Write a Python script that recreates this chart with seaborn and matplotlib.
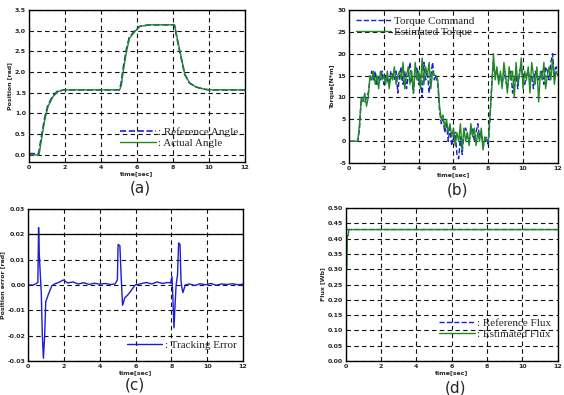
import numpy as np
import pandas as pd
import matplotlib
matplotlib.use('Agg')
import matplotlib.pyplot as plt
import seaborn as sns

# (a) position tracking [rad]
t_ang = [0, 0.57, 0.7, 0.89, 1.07, 1.35, 1.63, 2.0, 5.05, 5.15, 5.24, 5.43, 5.6, 5.9,
         6.17, 6.7, 8.1, 8.3, 8.5, 8.67, 8.94, 9.3, 9.7, 10.0, 12.0]
actual_angle = [0, 0, 0.36, 0.85, 1.17, 1.41, 1.53, 1.57, 1.57, 1.69, 2.0, 2.5, 2.82, 2.98,
                3.1, 3.14, 3.14, 2.7, 2.3, 1.94, 1.73, 1.64, 1.59, 1.57, 1.57]
t_ref = [0, 0.55, 0.68, 0.87, 1.05, 1.33, 1.6, 2.0, 5.02, 5.12, 5.22, 5.41, 5.58, 5.88,
         6.15, 6.7, 8.08, 8.28, 8.48, 8.66, 8.92, 9.28, 9.7, 10.0, 12.0]
ref_angle = [0.03, 0.03, 0.38, 0.86, 1.18, 1.42, 1.54, 1.57, 1.57, 1.7, 2.02, 2.52, 2.83, 2.99,
             3.1, 3.14, 3.14, 2.72, 2.31, 1.95, 1.74, 1.64, 1.59, 1.57, 1.57]

# (b) torque [N*m], sampled every 0.1 s
dt_torque = 0.1
est_torque = [0, 0, 0, 0, 0, 0,
              4, 10, 9, 11, 8, 10, 15, 14, 16, 13, 15, 12, 16, 14,
              15, 13, 16, 12, 15, 14, 17, 13, 15, 16,
              14, 18, 12, 15, 17, 13, 16, 11, 18, 14,
              16, 12, 19, 13, 17, 15, 18, 12, 16, 15,
              15, 14, 8, 5, 6, 3, 5, 2, 4, 1,
              3, -1, 2, 0, 4, -2, 3, 0, 2, -1,
              4, 1, 3, -1, 2, 0, 3, -2, 1, 0,
              0, 6, 12, 20, 14, 17, 13, 16, 12, 18,
              15, 11, 17, 14, 16, 10, 18, 13, 15, 19,
              12, 16, 14, 17, 11, 18, 15, 13, 17, 9,
              16, 14, 18, 12, 15, 17, 14, 19, 13, 16,
              15]
cmd_torque = [0, 0, 0, 0, 0, 0,
              3, 10, 10, 9, 10, 11, 14, 16, 14, 16, 13, 15, 14, 16,
              13, 15, 14, 13, 16, 15, 14, 16, 11, 15,
              17, 13, 16, 12, 15, 18, 14, 11, 16, 17,
              13, 15, 10, 18, 14, 16, 11, 15, 18, 14,
              15, 13, 7, 4, 5, 2, 4, 0, 3, -1,
              1, 2, -3, -4, 1, -3, 2, 3, 1, 0,
              2, 3, 0, 2, 4, 1, 2, -1, 0, 1,
              -1, 5, 13, 18, 15, 16, 14, 15, 13, 16,
              14, 12, 15, 16, 11, 14, 15, 12, 16, 17,
              14, 13, 15, 16, 14, 15, 12, 16, 15, 14,
              15, 16, 13, 17, 16, 14, 18, 20, 15, 17,
              16]

# (c) tracking error [rad]
t_err = [0, 0.3, 0.54, 0.58, 0.62, 0.67, 0.73, 0.79, 0.85, 0.92, 0.98, 1.13, 1.32, 1.5,
         1.7, 1.97, 2.2, 2.5, 2.8, 3.1, 3.4, 3.7, 4.0, 4.3, 4.6, 4.85, 4.98, 5.02,
         5.12, 5.2, 5.27, 5.4, 5.55, 5.7, 5.97, 6.3, 6.6, 6.9, 7.2, 7.5, 7.8, 7.95,
         8.03, 8.08, 8.14, 8.2, 8.26, 8.34, 8.4, 8.48, 8.53, 8.58, 8.64, 8.77, 9.0,
         9.3, 9.6, 9.9, 10.2, 10.5, 10.8, 11.1, 11.4, 11.7, 12.0]
track_err = [0, 0, 0.001, 0.0226, 0.012, 0.005, -0.003, -0.02, -0.0289, -0.02, -0.0066,
             -0.0036, -0.0003, 0.0005, 0.001, 0.002, 0.0008, 0.0012, 0.0004, 0.0009,
             0.0002, 0.0007, 0.0003, 0.0006, 0.0002, 0.0004, 0.002, 0.016, 0.0155, 0.002,
             -0.008, -0.005, -0.004, -0.0027, 0, 0.0005, 0.001, 0.0004, 0.0012, 0.0006,
             0.001, 0.0008, 0.0033, -0.005, -0.0169, -0.008, 0, 0.004, 0.0166, 0.016,
             0.002, -0.001, -0.003, 0, 0.0004, -0.0002, 0.0005, 0.0001, 0.0006, -0.0001,
             0.0004, 0.0002, 0.0005, 0.0001, 0.0003]

# (d) rotor flux [Wb]
t_flux_ref = [0, 0.02, 0.1, 12.0]
ref_flux = [0, 0.43, 0.43, 0.43]
t_flux_est = [0, 0.01, 0.06, 0.09, 0.14, 0.17, 12.0]
est_flux = [0, 0.3, 0.3, 0.41, 0.41, 0.43, 0.43]

blue = '#1c1cd2'
green = '#1f8a1f'

sns.set_style('white')
plt.rcParams['axes.unicode_minus'] = False
plt.rcParams['font.family'] = ['DejaVu Sans']

fig = plt.figure(figsize=(5.64, 3.95), dpi=100)
axa = fig.add_axes([0.051, 0.590, 0.383, 0.385])
axb = fig.add_axes([0.619, 0.587, 0.370, 0.388])
axc = fig.add_axes([0.050, 0.086, 0.381, 0.385])
axd = fig.add_axes([0.613, 0.086, 0.376, 0.387])


def style(ax, ylim, yticks, ylabel):
    ax.set_xlim(0, 12)
    ax.set_ylim(*ylim)
    ax.set_xticks([0, 2, 4, 6, 8, 10, 12])
    ax.set_yticks(yticks)
    ax.tick_params(labelsize=4.5, length=2, width=0.6, direction='in', pad=2)
    for lab in ax.get_xticklabels() + ax.get_yticklabels():
        lab.set_fontweight('bold')
    ax.grid(True, color='#111111', linestyle=(0, (4, 3)), linewidth=0.8)
    for s in ax.spines.values():
        s.set_color('black')
        s.set_linewidth(1.0)
    ax.set_xlabel('time[sec]', fontsize=4.5, labelpad=1, fontweight='bold')
    ax.set_ylabel(ylabel, fontsize=4.5, labelpad=2, fontweight='bold')


def legend(ax, loc, anchor):
    leg = ax.legend(loc=loc, bbox_to_anchor=anchor, frameon=False, handlelength=3.2,
                    handletextpad=0.2, labelspacing=0.1, borderaxespad=0.2,
                    prop={'family': 'Liberation Serif', 'size': 8})
    return leg


# (a)
df_a = pd.DataFrame({'t': t_ang, 'v': actual_angle})
df_ar = pd.DataFrame({'t': t_ref, 'v': ref_angle})
sns.lineplot(data=df_ar, x='t', y='v', ax=axa, color=blue, linestyle='--', linewidth=1.2,
             label=': Reference Angle')
sns.lineplot(data=df_a, x='t', y='v', ax=axa, color=green, linewidth=1.0,
             label=': Actual Angle')
style(axa, (-0.17, 3.5), [0, 0.5, 1, 1.5, 2, 2.5, 3, 3.5], 'Position [rad]')
legend(axa, 'lower right', (1.0, 0.05))

# (b)
t_tq = np.round(np.arange(len(est_torque)) * dt_torque, 2)
df_bc = pd.DataFrame({'t': t_tq, 'v': cmd_torque})
df_be = pd.DataFrame({'t': t_tq, 'v': est_torque})
sns.lineplot(data=df_bc, x='t', y='v', ax=axb, color=blue, linestyle='--', linewidth=1.0,
             label='Torque Command')
sns.lineplot(data=df_be, x='t', y='v', ax=axb, color=green, linewidth=1.0,
             label='Estimated Torque')
style(axb, (-5, 30), [-5, 0, 5, 10, 15, 20, 25, 30], 'Torque[N*m]')
legend(axb, 'upper left', (0.0, 1.0))

# (c)
df_c = pd.DataFrame({'t': t_err, 'v': track_err})
sns.lineplot(data=df_c, x='t', y='v', ax=axc, color=blue, linewidth=1.0,
             label=': Tracking Error')
style(axc, (-0.03, 0.03), [-0.03, -0.02, -0.01, 0, 0.01, 0.02, 0.03], 'Position error [rad]')
axc.axhline(0.02, color='black', linewidth=0.9)
legend(axc, 'lower right', (1.0, 0.03))

# (d)
df_dr = pd.DataFrame({'t': t_flux_ref, 'v': ref_flux})
df_de = pd.DataFrame({'t': t_flux_est, 'v': est_flux})
sns.lineplot(data=df_dr, x='t', y='v', ax=axd, color=blue, linestyle='--', linewidth=1.0,
             label=': Reference Flux')
sns.lineplot(data=df_de, x='t', y='v', ax=axd, color=green, linewidth=1.0,
             label=': Estimated Flux')
style(axd, (0, 0.5), [0, 0.05, 0.1, 0.15, 0.2, 0.25, 0.3, 0.35, 0.4, 0.45, 0.5], 'Flux [Wb]')
legend(axd, 'lower right', (1.0, 0.1))

fig.text(0.248, 0.525, '(a)', ha='center', va='center', fontsize=11)
fig.text(0.812, 0.520, '(b)', ha='center', va='center', fontsize=11)
fig.text(0.240, 0.025, '(c)', ha='center', va='center', fontsize=11)
fig.text(0.807, 0.018, '(d)', ha='center', va='center', fontsize=11)

fig.savefig('out.png', dpi=100)
